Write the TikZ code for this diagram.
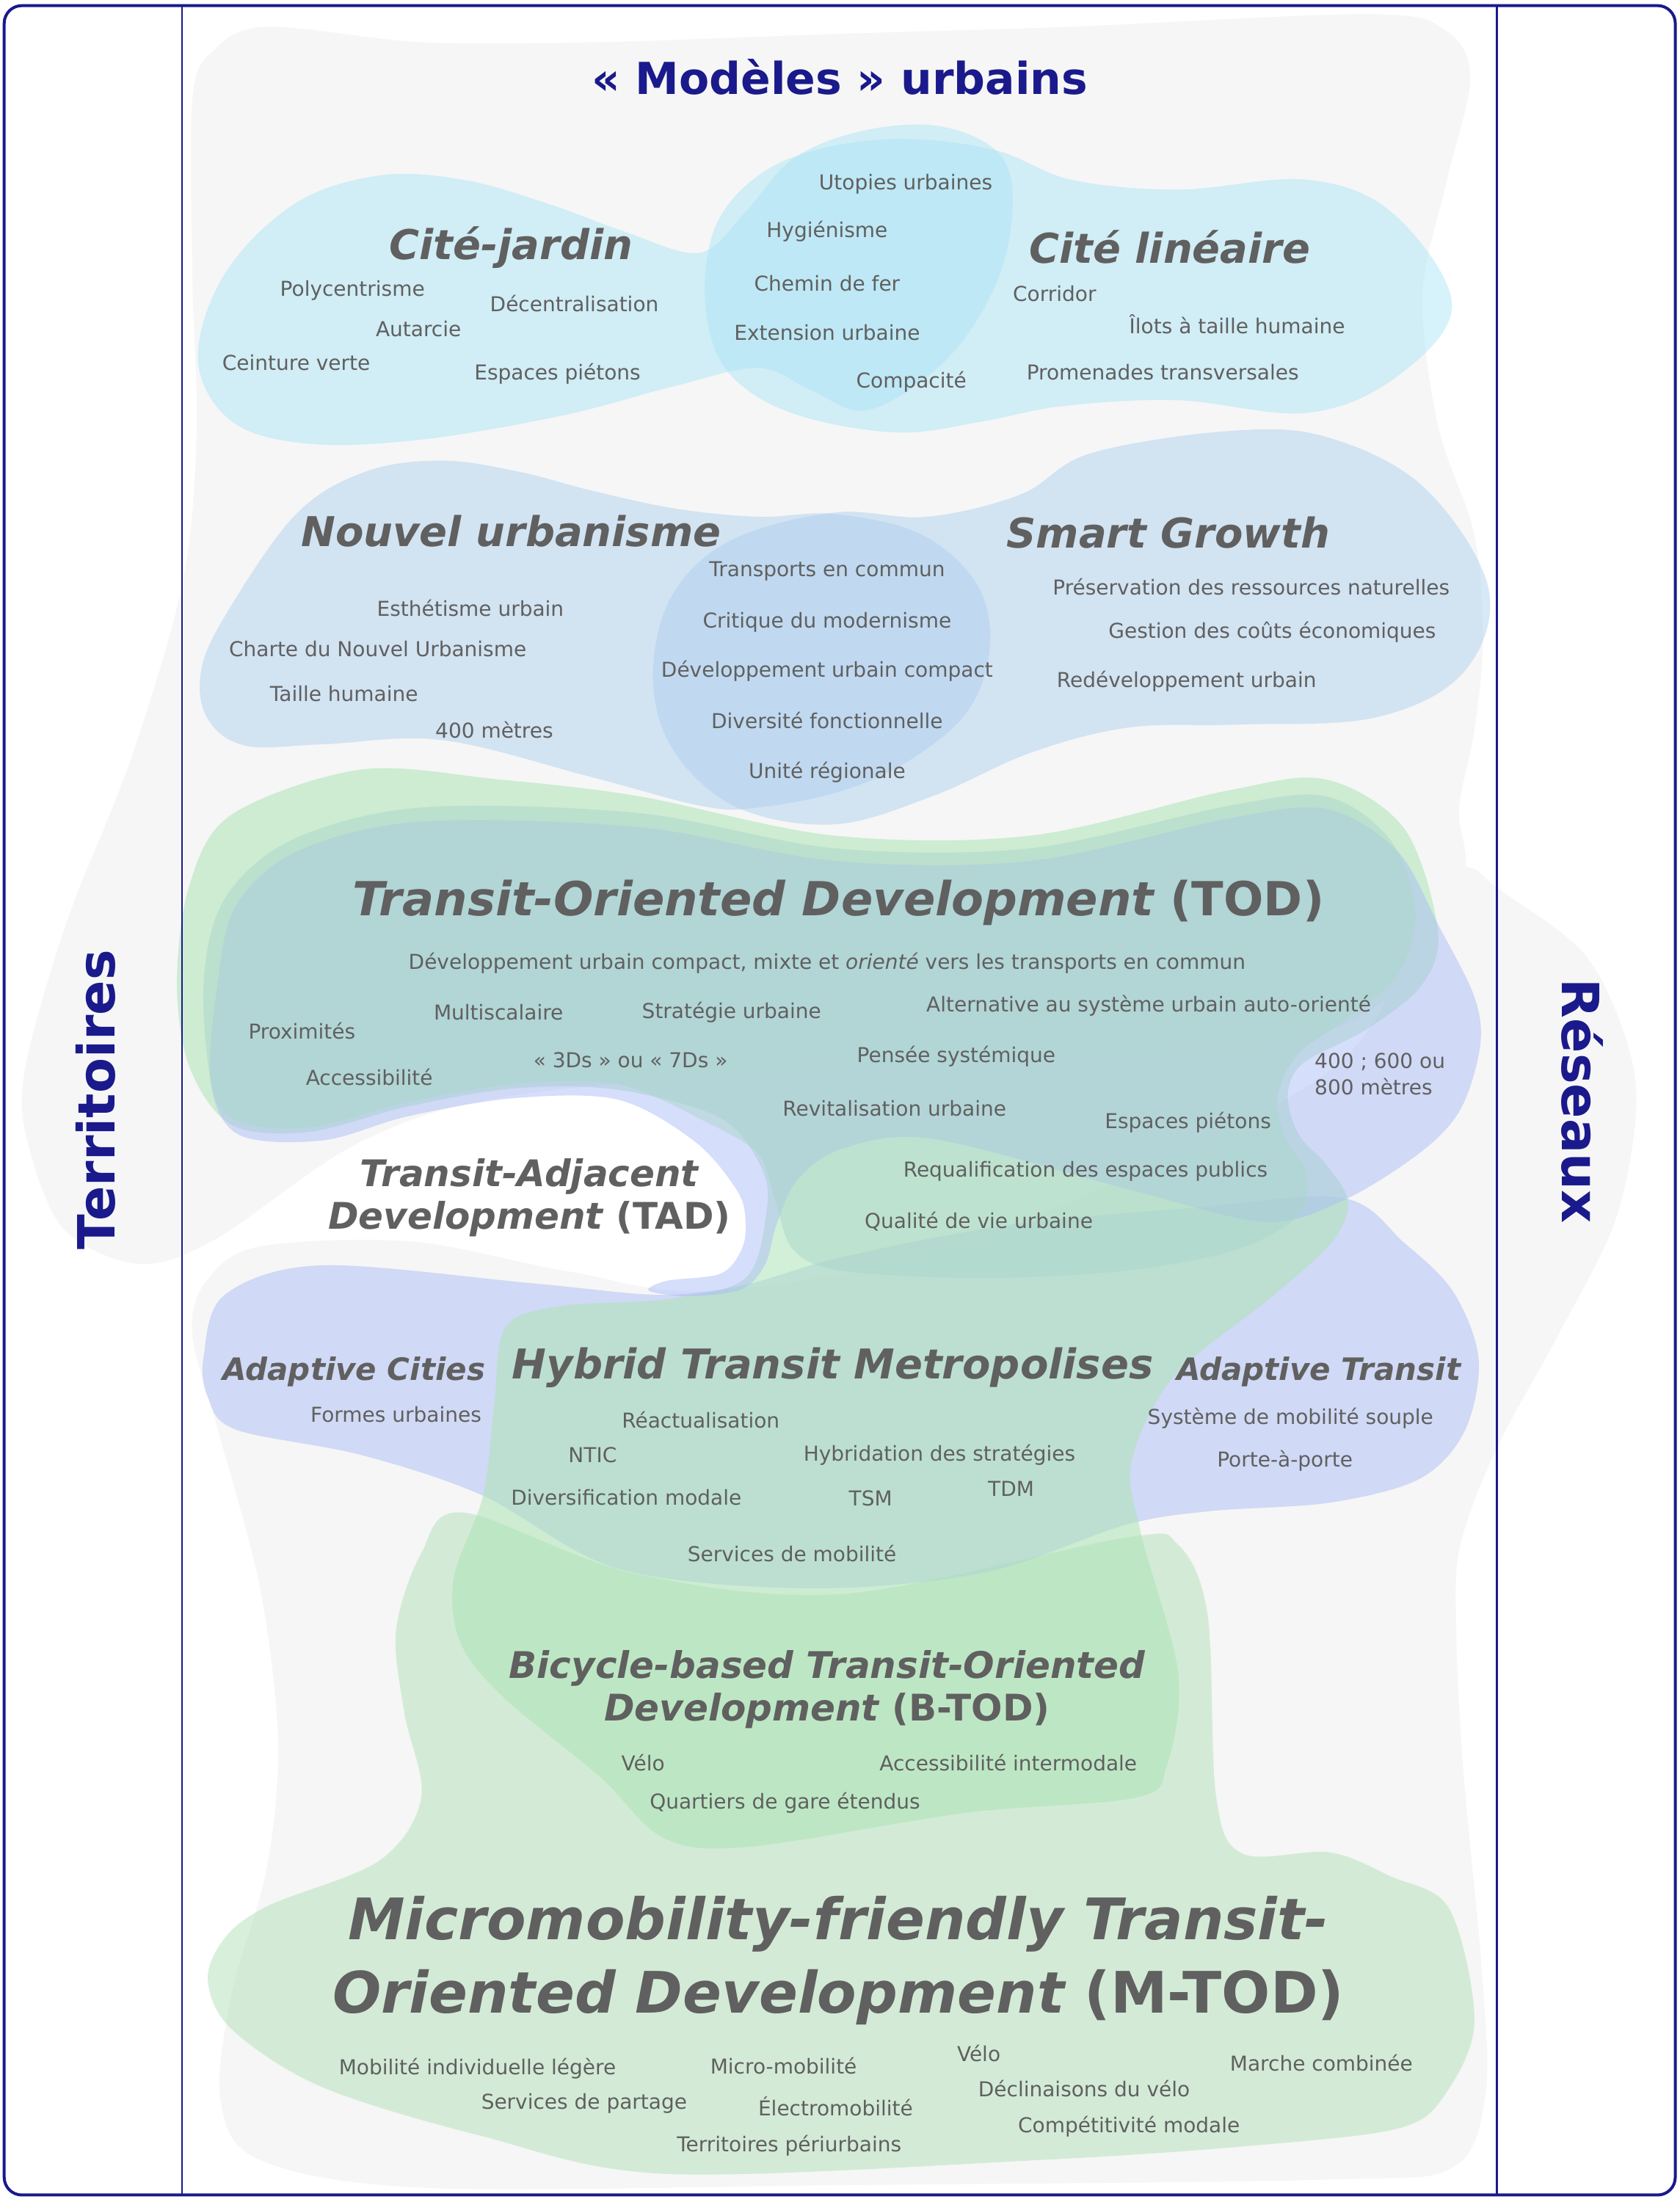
\documentclass[tikz,border=0pt]{standalone}
\usepackage{fontspec}
\setmainfont{DejaVu Sans}
\definecolor{frame}{RGB}{26,26,140}
\definecolor{bggray}{RGB}{246,246,246}
\definecolor{cyanb}{RGB}{173,229,245}
\definecolor{blueb}{RGB}{175,209,239}
\definecolor{greenb}{RGB}{177,225,183}
\definecolor{greenc}{RGB}{172,228,182}
\definecolor{periw}{RGB}{171,189,245}
\definecolor{tealb}{RGB}{171,214,203}
\definecolor{txt}{RGB}{96,96,96}
\tikzset{
  blob/.style={fill=#1, fill opacity=0.5, draw=none},
  lbl/.style={font=\fontsize{14}{18}\selectfont, text=txt, inner sep=0pt},
  ttl/.style={font=\fontsize{28}{34}\selectfont\bfseries\itshape, text=txt, inner sep=0pt},
  side/.style={font=\fontsize{35}{40}\selectfont\bfseries, text=frame, inner sep=0pt},
}
\begin{document}
\begin{tikzpicture}[x=0.957pt,y=-0.957pt]
\useasboundingbox (0,0) rectangle (1196,1568);
% gray background shapes
\fill[bggray] plot[smooth cycle, tension=0.55] coordinates {(191,19) (300,30) (427,30) (600,24) (763,19) (976,10) (1030,22) (1047,56) (1030,130) (1013,210) (1024,303) (1050,381) (1056,455) (1050,520) (1039,576) (1042,625) (1000,700) (900,745) (600,760) (366,780) (257,813) (154,882) (100,900) (47,877) (22,822) (17,766) (47,658) (93,541) (130,415) (140,308) (137,200) (137,70) (153,35)};
\fill[bggray] plot[smooth cycle, tension=0.55] coordinates {(513,919) (700,880) (950,760) (1020,625) (1047,618) (1066,632) (1128,679) (1158,740) (1165,793) (1150,870) (1110,950) (1066,1031) (1040,1100) (1037,1160) (1042,1260) (1055,1400) (1058,1490) (1035,1543) (947,1552) (600,1556) (305,1558) (185,1538) (157,1495) (165,1420) (190,1330) (198,1240) (185,1130) (154,1014) (137,952) (145,915) (183,888) (293,884) (403,905)};
% Cite-jardin / Cite lineaire
\fill[blob=cyanb] plot[smooth cycle, tension=0.6] coordinates {(141,256) (160,195) (210,145) (270,125) (330,128) (390,145) (445,165) (498,180) (530,152) (565,113) (615,93) (670,90) (712,110) (721,150) (708,205) (672,258) (618,292) (578,278) (540,262) (480,275) (400,296) (300,313) (220,316) (165,300)};
\fill[blob=cyanb] plot[smooth cycle, tension=0.6] coordinates {(502,210) (510,160) (540,125) (584,106) (644,99) (709,107) (763,128) (839,135) (931,128) (992,152) (1034,217) (995,268) (931,294) (839,285) (758,289) (700,300) (644,308) (584,300) (540,283) (512,255)};
% Nouvel urbanisme / Smart Growth
\fill[blob=blueb] plot[smooth cycle, tension=0.6] coordinates {(143,479) (160,439) (210,367) (260,336) (315,328) (370,336) (420,349) (480,362) (540,368) (594,366) (655,380) (695,415) (705,459) (690,505) (650,540) (600,563) (540,575) (500,574) (420,553) (315,527) (230,530) (175,531) (148,512)};
\fill[blob=blueb] plot[smooth cycle, tension=0.6] coordinates {(465,483) (478,425) (520,385) (594,365) (660,368) (727,352) (776,323) (874,307) (944,311) (1014,347) (1060,419) (1042,479) (979,511) (880,516) (804,518) (734,536) (664,567) (594,587) (525,575) (480,535)};
% M-TOD green
\fill[blob=greenb] plot[smooth cycle, tension=0.55] coordinates {(330,1077) (450,1120) (600,1135) (801,1095) (839,1100) (860,1150) (866,1279) (885,1320) (947,1319) (990,1336) (1032,1359) (1050,1439) (1030,1490) (998,1515) (902,1527) (742,1538) (475,1548) (343,1521) (229,1486) (165,1445) (148,1410) (160,1380) (191,1357) (270,1325) (300,1280) (288,1220) (282,1161) (300,1106)};
% Adaptive periwinkle
\fill[blob=periw] plot[smooth cycle, tension=0.55] coordinates {(145,966) (160,922) (229,901) (381,914) (470,922) (530,915) (600,895) (720,872) (850,860) (956,853) (1000,885) (1035,920) (1053,968) (1043,1019) (1011,1053) (947,1070) (862,1076) (801,1086) (700,1120) (575,1131) (440,1117) (344,1065) (257,1036) (168,1018) (148,995)};
% big green (TOD, hybrid, B-TOD)
\fill[greenc, fill opacity=0.55] plot[smooth cycle, tension=0.55] coordinates {(126,700) (135,630) (165,580) (257,548) (355,555) (455,567) (594,595) (734,595) (874,563) (944,555) (1000,590) (1024,663) (1012,702) (973,733) (928,757) (917,780) (925,808) (945,830) (960,856) (948,885) (905,924) (836,980) (806,1040) (812,1090) (839,1191) (831,1257) (809,1280) (687,1291) (534,1315) (473,1309) (427,1265) (359,1209) (328,1170) (323,1124) (344,1065) (352,1000) (360,945) (400,930) (476,925) (531,910) (546,862) (542,831) (513,796) (440,776) (366,775) (290,788) (220,806) (165,801) (135,760)};
% TOD periwinkle
\fill[blob=periw] plot[smooth cycle, tension=0.55] coordinates {(155,700) (168,645) (212,606) (300,585) (455,589) (594,613) (734,613) (874,583) (944,576) (995,606) (1025,660) (1050,710) (1054,745) (1040,790) (1011,821) (956,855) (900,870) (804,847) (664,811) (600,818) (568,840) (553,872) (545,900) (528,918) (490,923) (462,919) (475,912) (513,907) (528,890) (531,870) (525,848) (495,813) (440,783) (366,782) (290,795) (230,812) (170,808) (150,770)};
% TOD teal
\fill[blob=tealb] plot[smooth cycle, tension=0.55] coordinates {(145,700) (160,640) (208,598) (300,575) (455,579) (594,604) (734,604) (874,574) (944,567) (990,598) (1008,650) (995,695) (960,725) (925,750) (910,780) (915,810) (930,835) (925,865) (880,890) (800,905) (700,910) (600,905) (565,890) (552,855) (540,822) (505,800) (440,772) (366,772) (290,785) (225,802) (175,800) (152,778)};
% frame
\draw[frame, line width=2pt, rounded corners=12pt] (3,4) rectangle (1193,1563);
\draw[frame, line width=1.2pt] (129.5,4) -- (129.5,1563);
\draw[frame, line width=1.2pt] (1066,4) -- (1066,1563);
% titles
\node[font=\fontsize{30}{36}\selectfont\bfseries, text=frame, inner sep=0pt] (mu) at (598,55) {« Modèles » urbains};
\node[side, rotate=90] (terr) at (68,783) {Territoires};
\node[side, rotate=-90] (res) at (1127,784) {Réseaux};
\node[ttl] (cj) at (364,176) {Cité-jardin};
\node[ttl] (cl) at (833,176) {Cité linéaire};
\node[ttl] (nu) at (364,378) {Nouvel urbanisme};
\node[ttl] (sg) at (832,379) {Smart Growth};
\node[ttl, font=\fontsize{32}{38}\selectfont\bfseries] (tod) at (597,643) {\itshape Transit-Oriented Development \upshape(TOD)};
\node[ttl, font=\fontsize{25}{30}\selectfont\bfseries] (tad1) at (377,838) {\itshape Transit-Adjacent};
\node[ttl, font=\fontsize{25}{30}\selectfont\bfseries] (tad2) at (377,868) {\itshape Development \upshape(TAD)};
\node[ttl, font=\fontsize{21}{26}\selectfont\bfseries\itshape] (ac) at (252,977) {Adaptive Cities};
\node[ttl] (htm) at (593,974) {Hybrid Transit Metropolises};
\node[ttl, font=\fontsize{21}{26}\selectfont\bfseries\itshape] (at) at (939,977) {Adaptive Transit};
\node[ttl, font=\fontsize{25}{30}\selectfont\bfseries] (bt1) at (589,1188) {\itshape Bicycle-based Transit-Oriented};
\node[ttl, font=\fontsize{25}{30}\selectfont\bfseries] (bt2) at (589,1218) {\itshape Development \upshape(B-TOD)};
\node[ttl, font=\fontsize{39}{46}\selectfont\bfseries] (mt1) at (597,1370) {\itshape Micromobility-friendly Transit-};
\node[ttl, font=\fontsize{39}{46}\selectfont\bfseries] (mt2) at (597,1422) {\itshape Oriented Development \upshape(M-TOD)};
% labels
\node[lbl] (a1) at (251,207) {Polycentrisme};
\node[lbl] (a2) at (409,216) {Décentralisation};
\node[lbl] (a3) at (298,234) {Autarcie};
\node[lbl] (a4) at (211,258) {Ceinture verte};
\node[lbl] (a5) at (397,266) {Espaces piétons};
\node[lbl] (a6) at (645,131) {Utopies urbaines};
\node[lbl] (a7) at (589,165) {Hygiénisme};
\node[lbl] (a8) at (589,202) {Chemin de fer};
\node[lbl] (a9) at (589,237) {Extension urbaine};
\node[lbl] (a10) at (649,272) {Compacité};
\node[lbl] (a11) at (751,209) {Corridor};
\node[lbl] (a12) at (881,231) {Îlots à taille humaine};
\node[lbl] (a13) at (828,265) {Promenades transversales};
\node[lbl] (b1) at (335,433) {Esthétisme urbain};
\node[lbl] (b2) at (269,462) {Charte du Nouvel Urbanisme};
\node[lbl] (b3) at (245,494) {Taille humaine};
\node[lbl] (b4) at (352,520) {400 mètres};
\node[lbl] (b5) at (589,407) {Transports en commun};
\node[lbl] (b6) at (589,443) {Critique du modernisme};
\node[lbl] (b7) at (589,478) {Développement urbain compact};
\node[lbl] (b8) at (589,513) {Diversité fonctionnelle};
\node[lbl] (b9) at (589,550) {Unité régionale};
\node[lbl] (b10) at (891,418) {Préservation des ressources naturelles};
\node[lbl] (b11) at (906,450) {Gestion des coûts économiques};
\node[lbl] (b12) at (845,485) {Redéveloppement urbain};
\node[lbl] (c0) at (589,686) {Développement urbain compact, mixte et \textit{orienté} vers les transports en commun};
\node[lbl] (c1) at (215,734) {Proximités};
\node[lbl] (c2) at (355,721) {Multiscalaire};
\node[lbl] (c3) at (521,721) {Stratégie urbaine};
\node[lbl] (c4) at (818,716) {Alternative au système urbain auto-orienté};
\node[lbl] (c5) at (263,767) {Accessibilité};
\node[lbl] (c6) at (449,755) {« 3Ds » ou « 7Ds »};
\node[lbl] (c7) at (681,752) {Pensée systémique};
\node[lbl] (c8) at (637,789) {Revitalisation urbaine};
\node[lbl] (c9) at (846,799) {Espaces piétons};
\node[lbl] (c10) at (773,834) {Requalification des espaces publics};
\node[lbl] (c11) at (697,870) {Qualité de vie urbaine};
\node[lbl, anchor=west, align=left] (c12) at (936,765) {400 ; 600 ou\\800 mètres};
\node[lbl] (d1) at (282,1007) {Formes urbaines};
\node[lbl] (d2) at (499,1011) {Réactualisation};
\node[lbl] (d3) at (422,1036) {NTIC};
\node[lbl] (d4) at (669,1036) {Hybridation des stratégies};
\node[lbl] (d5) at (446,1066) {Diversification modale};
\node[lbl] (d6) at (620,1067) {TSM};
\node[lbl] (d7) at (720,1060) {TDM};
\node[lbl] (d8) at (564,1106) {Services de mobilité};
\node[lbl] (d9) at (919,1010) {Système de mobilité souple};
\node[lbl] (d10) at (915,1040) {Porte-à-porte};
\node[lbl] (e1) at (458,1255) {Vélo};
\node[lbl] (e2) at (718,1255) {Accessibilité intermodale};
\node[lbl] (e3) at (559,1284) {Quartiers de gare étendus};
\node[lbl] (f1) at (340,1473) {Mobilité individuelle légère};
\node[lbl] (f2) at (558,1471) {Micro-mobilité};
\node[lbl] (f3) at (697,1462) {Vélo};
\node[lbl] (f4) at (941,1469) {Marche combinée};
\node[lbl] (f5) at (772,1487) {Déclinaisons du vélo};
\node[lbl] (f6) at (416,1498) {Services de partage};
\node[lbl] (f7) at (595,1500) {Électromobilité};
\node[lbl] (f8) at (804,1514) {Compétitivité modale};
\node[lbl] (f9) at (562,1528) {Territoires périurbains};
\end{tikzpicture}
\end{document}
